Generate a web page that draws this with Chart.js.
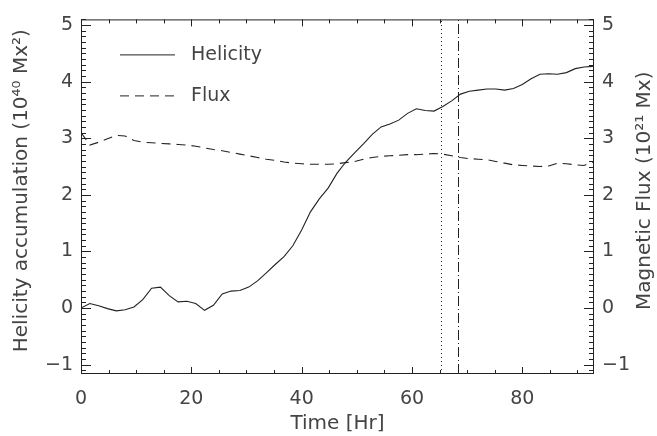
<!DOCTYPE html>
<html>
<head>
<meta charset="utf-8">
<script src="https://cdn.jsdelivr.net/npm/chart.js@4.4.1/dist/chart.umd.min.js"></script>
<style>
  html, body { margin: 0; padding: 0; background: #fff; }
  #wrap { width: 657px; height: 436px; }
</style>
</head>
<body>
<div id="wrap"><canvas id="helicityChart"></canvas></div>
<script>
// time in hours (96 min cadence)
const timeHours = [0, 1.6, 3.2, 4.8, 6.4, 8.0, 9.6, 11.2, 12.8, 14.4, 16.0, 17.6, 19.2, 20.8, 22.4, 24.0,
    25.6, 27.2, 28.8, 30.4, 32.0, 33.6, 35.2, 36.8, 38.4, 40.0, 41.6, 43.2, 44.8, 46.4, 48.0, 49.6,
    51.2, 52.8, 54.4, 56.0, 57.6, 59.2, 60.8, 62.4, 64.0, 65.6, 67.2, 68.8, 70.4, 72.0, 73.6, 75.2,
    76.8, 78.4, 80.0, 81.6, 83.2, 84.8, 86.4, 88.0, 89.6, 91.2, 92.8];
// helicity accumulation, 10^40 Mx^2
const helicity = [0.00, 0.08, 0.04, -0.01, -0.05, -0.03, 0.02, 0.15, 0.35, 0.37, 0.22, 0.11, 0.12, 0.08, -0.04, 0.05,
    0.25, 0.30, 0.31, 0.37, 0.48, 0.62, 0.77, 0.91, 1.10, 1.38, 1.70, 1.93, 2.12, 2.38, 2.58, 2.74,
    2.90, 3.07, 3.20, 3.25, 3.32, 3.44, 3.52, 3.49, 3.48, 3.56, 3.66, 3.78, 3.83, 3.85, 3.87, 3.87,
    3.85, 3.88, 3.95, 4.05, 4.13, 4.14, 4.13, 4.16, 4.23, 4.26, 4.27];
// magnetic flux, 10^21 Mx
const flux = [3.10, 2.88, 2.93, 2.99, 3.05, 3.04, 2.96, 2.93, 2.92, 2.91, 2.90, 2.89, 2.88, 2.86, 2.83, 2.80,
    2.78, 2.75, 2.72, 2.69, 2.66, 2.63, 2.61, 2.58, 2.56, 2.55, 2.54, 2.54, 2.54, 2.55, 2.57, 2.59,
    2.63, 2.66, 2.68, 2.69, 2.70, 2.71, 2.71, 2.72, 2.73, 2.72, 2.69, 2.66, 2.64, 2.63, 2.62, 2.59,
    2.56, 2.53, 2.52, 2.51, 2.50, 2.51, 2.56, 2.55, 2.53, 2.52, 2.58];

const xTickValues = [0, 20, 40, 60, 80];
const yTickValues = [-1, 0, 1, 2, 3, 4, 5];
const eventTimes = [65.2, 68.4];
const eventDashes = [[1, 3], [10, 3, 1, 3]];

const FONT = '"DejaVu Sans ExtraLight", "DejaVu Sans", sans-serif';
const INK = '#444';

function toPoints(xs, ys) {
    return xs.map((t, i) => ({x: t, y: ys[i]}));
}

function tickLabel(v) {
    return v < 0 ? '\u2212' + Math.abs(v) : String(v);
}

function sideTitle(ctx, text, cx, cy) {
    ctx.save();
    ctx.translate(cx, cy);
    ctx.rotate(-Math.PI / 2);
    ctx.fillText(text, 0, 0);
    ctx.restore();
}

// IDL style box: inward ticks on all four sides, event lines, legend, axis titles
const axisBox = {
    id: 'axisBox',
    afterDatasetsDraw(chart) {
        const {ctx, chartArea: a, scales} = chart;
        const x = scales.x, y = scales.y;
        ctx.save();
        ctx.strokeStyle = '#222';
        ctx.lineWidth = 1;

        eventTimes.forEach((t, i) => {
            const px = Math.round(x.getPixelForValue(t)) + 0.5;
            ctx.setLineDash(eventDashes[i]);
            ctx.beginPath();
            ctx.moveTo(px, a.bottom);
            ctx.lineTo(px, a.top);
            ctx.stroke();
        });
        ctx.setLineDash([]);

        ctx.strokeRect(a.left + 0.5, a.top + 0.5, a.width - 1, a.height - 1);

        ctx.beginPath();
        for (let t = 0; t <= x.max; t += 5) {
            const px = Math.round(x.getPixelForValue(t)) + 0.5;
            const len = t % 20 === 0 ? 7 : 4;
            ctx.moveTo(px, a.bottom); ctx.lineTo(px, a.bottom - len);
            ctx.moveTo(px, a.top); ctx.lineTo(px, a.top + len);
        }
        for (let k = Math.ceil(y.min * 10); k <= Math.floor(y.max * 10); k++) {
            const py = Math.round(y.getPixelForValue(k / 10)) + 0.5;
            const len = k % 10 === 0 ? 10 : 5;
            ctx.moveTo(a.left, py); ctx.lineTo(a.left + len, py);
            ctx.moveTo(a.right, py); ctx.lineTo(a.right - len, py);
        }
        ctx.stroke();

        // legend
        ctx.font = '19px ' + FONT;
        ctx.fillStyle = INK;
        ctx.textBaseline = 'middle';
        chart.data.datasets.forEach((ds, i) => {
            const ly = a.top + 35.5 + i * 41;
            ctx.setLineDash(ds.borderDash || []);
            ctx.beginPath();
            ctx.moveTo(a.left + 39, ly);
            ctx.lineTo(a.left + 94, ly);
            ctx.stroke();
            ctx.fillText(ds.label, a.left + 110, ly);
        });
        ctx.setLineDash([]);

        // both side titles read bottom to top
        ctx.font = '20px ' + FONT;
        ctx.textAlign = 'center';
        const midY = (a.top + a.bottom) / 2 - 6;
        sideTitle(ctx, 'Helicity accumulation (10\u2074\u2070 Mx\u00B2)', 22, midY);
        sideTitle(ctx, 'Magnetic Flux (10\u00B2\u00B9 Mx)', 645, midY);
        ctx.restore();
    }
};

const yTicks = {
    color: INK,
    font: {family: FONT, size: 19},
    padding: 8,
    callback: tickLabel
};

const chart = new Chart(document.getElementById('helicityChart'), {
    type: 'line',
    data: {
        datasets: [
            {
                label: 'Helicity',
                data: toPoints(timeHours, helicity),
                borderColor: '#222',
                borderWidth: 1.1,
                pointRadius: 0,
                tension: 0,
                yAxisID: 'y'
            },
            {
                label: 'Flux',
                data: toPoints(timeHours, flux),
                borderColor: '#222',
                borderWidth: 1.1,
                borderDash: [9, 6],
                pointRadius: 0,
                tension: 0,
                yAxisID: 'y2'
            }
        ]
    },
    options: {
        responsive: true,
        maintainAspectRatio: false,
        animation: false,
        layout: {padding: {top: 14}},
        plugins: {
            legend: {display: false},
            tooltip: {enabled: false}
        },
        scales: {
            x: {
                type: 'linear',
                min: 0,
                max: 93,
                grid: {display: false, drawTicks: false},
                border: {display: false},
                afterBuildTicks: s => { s.ticks = xTickValues.map(value => ({value})); },
                afterFit: s => { s.height = 62; },
                ticks: {color: INK, font: {family: FONT, size: 19}, padding: 14, maxRotation: 0, callback: tickLabel},
                title: {
                    display: true,
                    text: 'Time [Hr]',
                    color: INK,
                    font: {family: FONT, size: 20},
                    padding: {top: 0, bottom: 0}
                }
            },
            y: {
                type: 'linear',
                position: 'left',
                min: -1.165,
                max: 5.1,
                grid: {display: false, drawTicks: false},
                border: {display: false},
                afterBuildTicks: s => { s.ticks = yTickValues.map(value => ({value})); },
                afterFit: s => { s.width = 81; },
                ticks: yTicks
            },
            y2: {
                type: 'linear',
                position: 'right',
                min: -1.165,
                max: 5.1,
                grid: {display: false, drawTicks: false},
                border: {display: false},
                afterBuildTicks: s => { s.ticks = yTickValues.map(value => ({value})); },
                afterFit: s => { s.width = 63; },
                ticks: yTicks
            }
        }
    },
    plugins: [axisBox]
});
</script>
</body>
</html>
